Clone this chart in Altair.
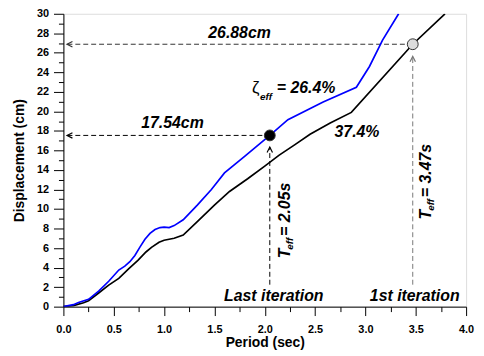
import altair as alt
import pandas as pd

# ---- data ----
black_x = [0.0, 0.1, 0.2, 0.25, 0.35, 0.45, 0.55, 0.65, 0.74, 0.82, 0.875, 0.95, 1.0, 1.1, 1.19,
           1.33, 1.5, 1.65, 1.83, 2.0, 2.14, 2.3, 2.45, 2.65, 2.86, 3.47, 3.79]
black_y = [0.0, 0.1, 0.4, 0.6, 1.4, 2.2, 2.9, 3.9, 4.74, 5.6, 6.07, 6.6, 6.8, 7.0, 7.33,
           8.7, 10.4, 11.8, 13.1, 14.4, 15.5, 16.6, 17.66, 18.8, 19.9, 26.88, 30.0]
blue_x = [0.0, 0.1, 0.15, 0.25, 0.35, 0.45, 0.55, 0.61, 0.66, 0.71, 0.76, 0.81, 0.86, 0.91, 0.96,
          1.0, 1.05, 1.1, 1.19, 1.33, 1.47, 1.6, 1.8, 2.05, 2.23, 2.58, 2.91, 3.04, 3.17, 3.33]
blue_y = [0.0, 0.2, 0.43, 0.75, 1.6, 2.6, 3.75, 4.15, 4.6, 5.24, 6.1, 6.9, 7.5, 7.9, 8.1,
          8.15, 8.1, 8.3, 8.9, 10.4, 12.0, 13.7, 15.4, 17.54, 19.15, 20.97, 22.47, 24.6, 27.3, 30.0]

dot_x = [2.05, 3.47]
dot_y = [17.54, 26.88]
dot_fill = ["#000000", "#dcdcdc"]

guide_x = [0.04, 0.04, 2.05, 3.47]
guide_x2 = [2.05, 3.47, 2.05, 3.47]
guide_y = [17.54, 26.88, 2.25, 2.25]
guide_y2 = [17.54, 26.88, 16.35, 25.63]
guide_color = ["#000000", "#333333", "#000000", "#777777"]

arrow_x = [0.036, 0.036, 2.05, 3.47]
arrow_y = [17.54, 26.88, 16.35, 25.63]
arrow_dir = ["left", "left", "up", "up"]

main_text = ["26.88cm", "17.54cm", "37.4%", "Last iteration", "1st iteration", "= 26.4%"]
main_x = [1.439, 0.773, 2.693, 1.596, 3.044, 2.120]
main_y = [28.01, 18.84, 17.87, 1.07, 1.07, 22.38]

rot_text = ["T", "= 2.05s", "T", "= 3.47s"]
rot_x = [2.20, 2.20, 3.60, 3.60]
rot_y = [4.95, 7.24, 8.93, 11.21]

sub_text = ["eff", "eff", "eff"]
sub_x = [1.953, 2.25, 3.65]
sub_y = [21.48, 5.84, 9.82]
sub_angle = [0, 270, 270]

zeta_text = ["ζ"]
zeta_x = [1.874]
zeta_y = [22.44]

x_major_ticks = [0.0, 0.5, 1.0, 1.5, 2.0, 2.5, 3.0, 3.5, 4.0]
x_minor_ticks = [0.25, 0.75, 1.25, 1.75, 2.25, 2.75, 3.25, 3.75]
y_major_ticks = list(range(0, 31, 2))
y_minor_ticks = list(range(1, 30, 2))

FONT = "Liberation Sans"

xs = alt.Scale(domain=[0, 4], nice=False, zero=False)
ys = alt.Scale(domain=[0, 30], nice=False, zero=False)

x_axis = alt.Axis(
    orient="bottom", title="Period (sec)", values=x_major_ticks, format=".1f",
    ticks=True, tickSize=9, tickWidth=1, grid=False, domainColor="#000", tickColor="#000", labelColor="#000",
    labelFont=FONT, labelFontSize=11, labelFontWeight="bold", labelPadding=8,
    labelOverlap=False, labelFlush=False, labelBound=False,
    titleFont=FONT, titleFontSize=14, titleFontWeight="bold", titleColor="#000",
    titleY=36, titleBaseline="middle",
)
y_axis = alt.Axis(
    orient="left", title="Displacement (cm)", values=y_major_ticks, format="d",
    ticks=True, tickSize=10, tickWidth=1, grid=False, domainColor="#000", tickColor="#000", labelColor="#000",
    labelFont=FONT, labelFontSize=11, labelFontWeight="bold", labelPadding=5,
    labelOverlap=False, labelFlush=False, labelBound=False,
    titleFont=FONT, titleFontSize=14, titleFontWeight="bold", titleColor="#000",
    titleX=-44, titleBaseline="middle",
)
x_minor_axis = alt.Axis(orient="bottom", title="", values=x_minor_ticks, labels=False, domain=False,
                        ticks=True, tickSize=5, tickWidth=1, tickColor="#000", grid=False)
y_minor_axis = alt.Axis(orient="left", title="", values=y_minor_ticks, labels=False, domain=False,
                        ticks=True, tickSize=5, tickWidth=1, tickColor="#000", grid=False)

curves = pd.DataFrame({
    "x": black_x + blue_x,
    "y": black_y + blue_y,
    "s": ["black"] * len(black_x) + ["blue"] * len(blue_x),
})
guides = pd.DataFrame({"x": guide_x, "x2": guide_x2, "y": guide_y, "y2": guide_y2, "c": guide_color})
arrows = pd.DataFrame({"x": arrow_x, "y": arrow_y, "d": arrow_dir, "c": guide_color})
dots = pd.DataFrame({"x": dot_x, "y": dot_y, "f": dot_fill})
mains = pd.DataFrame({"x": main_x, "y": main_y, "t": main_text})
rots = pd.DataFrame({"x": rot_x, "y": rot_y, "t": rot_text})
subs = pd.DataFrame({"x": sub_x, "y": sub_y, "t": sub_text, "a": sub_angle})
zetas = pd.DataFrame({"x": zeta_x, "y": zeta_y, "t": zeta_text})

guide_layer = alt.Chart(guides).mark_rule(strokeDash=[5, 3], strokeWidth=1).encode(
    x=alt.X("x:Q", scale=xs, axis=x_minor_axis), x2="x2:Q",
    y=alt.Y("y:Q", scale=ys, axis=y_minor_axis), y2="y2:Q",
    color=alt.Color("c:N", scale=None),
)

base_lines = alt.Chart(curves).mark_line(strokeWidth=1.7, clip=True).encode(
    x=alt.X("x:Q", scale=xs, axis=x_axis),
    y=alt.Y("y:Q", scale=ys, axis=y_axis),
    color=alt.Color("s:N", scale=alt.Scale(domain=["black", "blue"], range=["#000000", "#0000ff"]), legend=None),
    detail="s:N",
)

left_arrows = alt.Chart(arrows).transform_filter("datum.d == 'left'").mark_point(
    shape="M 2 -1 L 0 0 L 2 1", size=30, filled=False, strokeWidth=1.2, opacity=1
).encode(x=alt.X("x:Q", scale=xs, axis=None), y=alt.Y("y:Q", scale=ys, axis=None),
         color=alt.Color("c:N", scale=None))

up_arrows = alt.Chart(arrows).transform_filter("datum.d == 'up'").mark_point(
    shape="M -1 2 L 0 0 L 1 2", size=30, filled=False, strokeWidth=1.2, opacity=1
).encode(x=alt.X("x:Q", scale=xs, axis=None), y=alt.Y("y:Q", scale=ys, axis=None),
         color=alt.Color("c:N", scale=None))

dot_layer = alt.Chart(dots).mark_point(filled=True, size=120, stroke="#333", strokeWidth=1, opacity=1).encode(
    x=alt.X("x:Q", scale=xs, axis=None), y=alt.Y("y:Q", scale=ys, axis=None),
    fill=alt.Fill("f:N", scale=None),
)

main_layer = alt.Chart(mains).mark_text(
    font=FONT, fontSize=16, fontWeight="bold", fontStyle="italic", align="left", baseline="middle", color="#000"
).encode(x=alt.X("x:Q", scale=xs, axis=None), y=alt.Y("y:Q", scale=ys, axis=None), text="t:N")

rot_layer = alt.Chart(rots).mark_text(
    font=FONT, fontSize=16, fontWeight="bold", fontStyle="italic", align="left", baseline="middle",
    angle=270, color="#000"
).encode(x=alt.X("x:Q", scale=xs, axis=None), y=alt.Y("y:Q", scale=ys, axis=None), text="t:N")

sub_layer = alt.Chart(subs).mark_text(
    font=FONT, fontSize=10, fontWeight="bold", fontStyle="italic", align="left", baseline="middle", color="#000"
).encode(x=alt.X("x:Q", scale=xs, axis=None), y=alt.Y("y:Q", scale=ys, axis=None), text="t:N",
         angle=alt.Angle("a:Q", scale=None))

zeta_layer = alt.Chart(zetas).mark_text(
    font=FONT, fontSize=17, align="left", baseline="middle", color="#000"
).encode(x=alt.X("x:Q", scale=xs, axis=None), y=alt.Y("y:Q", scale=ys, axis=None), text="t:N")

chart = alt.layer(
    guide_layer, base_lines, left_arrows, up_arrows, dot_layer,
    main_layer, rot_layer, sub_layer, zeta_layer,
).resolve_axis(x="independent", y="independent").properties(
    width=407, height=296,
    autosize=alt.AutoSizeParams(type="none"),
    padding={"left": 56, "top": 4, "right": 10, "bottom": 44},
).configure_view(stroke="#555", strokeWidth=1).configure(background="white")

chart.save("out.html", embed_options={"renderer": "svg", "actions": False})
